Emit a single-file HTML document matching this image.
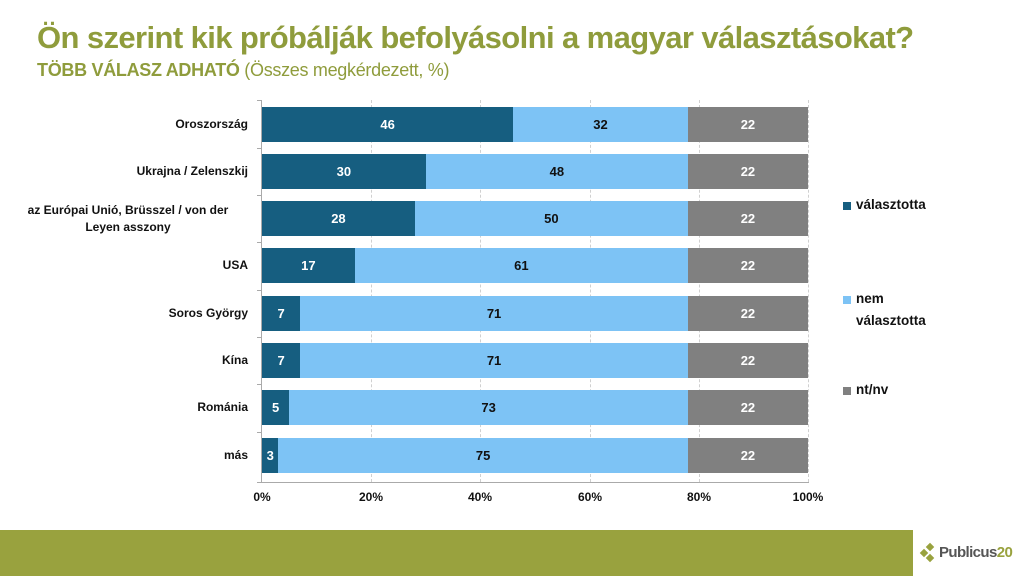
<!DOCTYPE html>
<html><head><meta charset="utf-8"><style>
*{margin:0;padding:0;box-sizing:border-box}
body{width:1024px;height:576px;background:#fff;position:relative;overflow:hidden;font-family:"Liberation Sans",sans-serif}
.t{position:absolute;left:37px;top:20px;font-size:31px;font-weight:bold;color:#8f9c3c;letter-spacing:-0.6px;white-space:nowrap}
.s{position:absolute;left:37px;top:60px;font-size:18px;color:#8f9c3c;white-space:nowrap;letter-spacing:-0.3px}
.a{position:absolute;background:#aaa}
.g{position:absolute;top:100px;height:382px;border-left:1px dashed #d0d0d0}
.bar{position:absolute;height:35px;display:flex;align-items:center;justify-content:center;font-size:13px;font-weight:bold}
.lab{position:absolute;right:776px;width:240px;text-align:right;font-size:12px;font-weight:bold;color:#111;line-height:17px}
.xl{position:absolute;top:490px;font-size:12px;font-weight:bold;color:#111;width:50px;text-align:center}
.lg{position:absolute;left:856px;font-size:13.5px;font-weight:bold;color:#111;line-height:22px}
.sw{position:absolute;left:843px;width:8px;height:8px}
</style></head><body>
<div class="t">Ön szerint kik próbálják befolyásolni a magyar választásokat?</div>
<div class="s"><b>TÖBB VÁLASZ ADHATÓ</b> (Összes megkérdezett, %)</div>
<div class="g" style="left:371px"></div><div class="g" style="left:480px"></div><div class="g" style="left:590px"></div><div class="g" style="left:699px"></div><div class="g" style="left:808px"></div>
<div class="a" style="left:261px;top:100px;width:1px;height:382px"></div>
<div class="a" style="left:257px;top:482px;width:552px;height:1px"></div>
<div id="bars"></div>
<div class="xl" style="left:237px">0%</div><div class="xl" style="left:346px">20%</div><div class="xl" style="left:455px">40%</div><div class="xl" style="left:565px">60%</div><div class="xl" style="left:674px">80%</div><div class="xl" style="left:783px">100%</div>
<div class="sw" style="top:202px;background:#165e80"></div><div class="lg" style="top:194px">választotta</div>
<div class="sw" style="top:296px;background:#7dc3f5"></div><div class="lg" style="top:288px">nem<br>választotta</div>
<div class="sw" style="top:387px;background:#808080"></div><div class="lg" style="top:379px">nt/nv</div>
<div style="position:absolute;left:0;top:530px;width:913px;height:46px;background:#99a23e"></div>
<div style="position:absolute;left:921px;top:544px;width:18px;height:18px">
<div style="position:absolute;left:6px;top:0;width:6px;height:6px;background:#99a23e;transform:rotate(45deg)"></div>
<div style="position:absolute;left:0;top:6px;width:6px;height:6px;background:#99a23e;transform:rotate(45deg)"></div>
<div style="position:absolute;left:6px;top:11px;width:6px;height:6px;background:#99a23e;transform:rotate(45deg)"></div></div>
<div style="position:absolute;left:939px;top:544px;font-size:15px;font-weight:bold;color:#555;letter-spacing:-0.6px">Publicus<span style="color:#99a23e">20</span></div>
<script>
var d=[["Oroszország",46,32],["Ukrajna / Zelenszkij",30,48],["az Európai Unió, Brüsszel / von der<br>Leyen asszony",28,50],["USA",17,61],["Soros György",7,71],["Kína",7,71],["Románia",5,73],["más",3,75]];
var h="",x0=262,w=5.46;
d.forEach(function(r,i){var c=124+i*47.3,t=c-17.5;
h+='<div class="lab" style="top:'+(c-(r[0].indexOf("<br>")>0?17:8.5))+'px;'+(r[0].indexOf("<br>")>0?'text-align:center;width:240px;':'')+'">'+r[0]+'</div>';
h+='<div class="a" style="left:257px;top:'+(c-23.6)+'px;width:5px;height:1px"></div>';
h+='<div class="bar" style="left:'+x0+'px;top:'+t+'px;width:'+(r[1]*w)+'px;background:#165e80;color:#fff">'+r[1]+'</div>';
h+='<div class="bar" style="left:'+(x0+r[1]*w)+'px;top:'+t+'px;width:'+(r[2]*w)+'px;background:#7dc3f5;color:#111">'+r[2]+'</div>';
h+='<div class="bar" style="left:'+(x0+78*w)+'px;top:'+t+'px;width:'+(22*w)+'px;background:#808080;color:#fff">22</div>';});
document.getElementById("bars").innerHTML=h;
</script>
</body></html>
